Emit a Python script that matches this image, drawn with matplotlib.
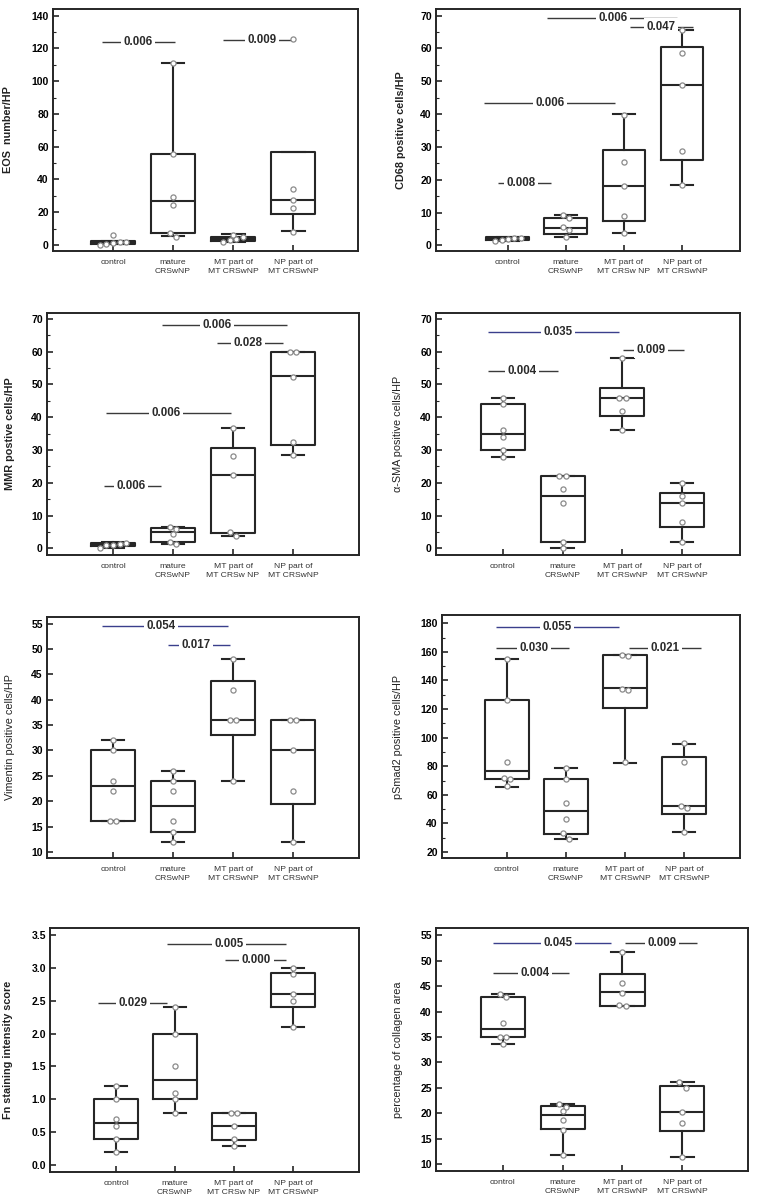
"""8-panel box plots (control / mature CRSwNP / MT part / NP part) -> out.png"""
import matplotlib
matplotlib.use("Agg")
import matplotlib.pyplot as plt
import numpy as np
from matplotlib.ticker import MultipleLocator

plt.rcParams["font.family"] = ["Liberation Sans", "DejaVu Sans"]

GROUPS = ["control", "mature\nCRSwNP", "MT part of\nMT CRSwNP", "NP part of\nMT CRSwNP"]
GROUPS_SP = ["control", "mature\nCRSwNP", "MT part of\nMT CRSw NP", "NP part of\nMT CRSwNP"]

# box stats per group: (whisker low, q1, median, q3, whisker high)
EOS_BOX = [(0.6, 0.8, 1.4, 2.2, 2.4), (5.5, 7.1, 26.9, 55.4, 111.0),
           (1.5, 2.5, 3.5, 5.0, 6.5), (8.5, 18.7, 27.3, 57.0, 57.0)]
EOS_PTS = [[0.2, 0.8, 1.2, 1.6, 2.0, 6.0], [111.0, 55.4, 29.5, 24.6, 7.5, 5.1],
           [1.5, 3.0, 3.5, 5.0, 6.0], [125.8, 34.0, 27.3, 22.4, 8.1]]
# significance: (x from, x to, text x, y, label, colour)
EOS_SIG = [(0.82, 2.03, 1.42, 123.7, "0.006", "k"), (2.83, 4.03, 3.48, 125.2, "0.009", "k")]

CD68_BOX = [(1.3, 1.5, 2.0, 2.6, 2.6), (2.5, 3.6, 5.3, 8.3, 9.3),
            (3.9, 7.5, 18.1, 29.0, 39.9), (18.3, 26.0, 48.9, 60.4, 65.6)]
CD68_PTS = [[1.3, 1.8, 2.0, 2.2, 2.3], [9.3, 8.2, 5.5, 4.7, 2.7],
            [39.8, 25.4, 18.1, 8.9, 3.9], [65.6, 58.6, 48.9, 28.8, 18.3]]
CD68_SIG = [(1.67, 3.91, 2.81, 69.4, "0.006", "k"), (3.1, 4.19, 3.64, 66.6, "0.047", "k"),
            (0.59, 2.85, 1.72, 43.3, "0.006", "k"), (0.83, 1.74, 1.22, 19.0, "0.008", "k")]

MMR_BOX = [(0.0, 0.8, 1.2, 1.6, 2.0), (1.4, 1.9, 4.9, 6.3, 6.6),
           (3.7, 4.6, 22.4, 30.5, 36.6), (28.6, 31.5, 52.5, 60.0, 60.0)]
MMR_PTS = [[0.0, 1.0, 1.2, 1.5, 1.8], [6.6, 6.0, 4.5, 2.0, 1.4],
           [36.6, 28.2, 22.4, 5.0, 3.7], [60.0, 59.8, 52.4, 32.5, 28.6]]
MMR_SIG = [(1.82, 3.9, 2.73, 68.0, "0.006", "k"), (2.73, 3.83, 3.25, 62.5, "0.028", "k"),
           (0.88, 2.97, 1.88, 41.3, "0.006", "k"), (0.85, 1.8, 1.3, 18.9, "0.006", "k")]

SMA_BOX = [(28.0, 30.0, 35.0, 44.0, 46.0), (0.0, 1.9, 16.0, 22.0, 22.0),
           (36.0, 40.5, 46.0, 49.0, 58.0), (1.9, 6.4, 14.0, 17.0, 20.0)]
SMA_PTS = [[46, 44, 36, 34, 30, 28], [22, 22, 18, 14, 2, 0],
           [58, 46, 46, 42, 36], [20, 16, 14, 8, 2]]
SMA_SIG = [(0.75, 2.94, 1.92, 66.1, "0.035", "b"), (3.01, 4.03, 3.48, 60.6, "0.009", "k"),
           (0.75, 1.92, 1.32, 54.0, "0.004", "k")]

VIM_BOX = [(16.0, 16.0, 23.0, 30.0, 32.0), (12.0, 14.0, 19.0, 24.0, 26.0),
           (24.0, 33.0, 36.0, 43.6, 48.0), (12.0, 19.5, 30.0, 36.0, 36.0)]
VIM_PTS = [[32, 30, 24, 22, 16, 16], [26, 24, 22, 16, 14, 12],
           [48, 42, 36, 36, 24], [36, 36, 30, 22, 12]]
VIM_SIG = [(0.82, 2.92, 1.8, 54.5, "0.054", "b"), (1.92, 2.95, 2.38, 50.7, "0.017", "b")]

SMAD_BOX = [(65.6, 71.0, 77.0, 126.2, 155.0), (29.0, 32.6, 48.4, 71.0, 79.0),
            (82.6, 120.4, 134.4, 157.6, 157.6), (34.0, 46.5, 51.9, 86.4, 95.9)]
SMAD_PTS = [[155, 126, 83, 72, 71, 66], [79, 71, 54, 43, 33, 29],
            [158, 157, 134, 133, 83], [96, 83, 52, 51, 34]]
SMAD_SIG = [(0.81, 2.9, 1.85, 177.7, "0.055", "b"), (0.81, 2.05, 1.46, 162.5, "0.030", "k"),
            (3.07, 4.29, 3.68, 162.5, "0.021", "k")]

FN_BOX = [(0.2, 0.4, 0.65, 1.0, 1.2), (0.8, 1.0, 1.3, 2.0, 2.4),
          (0.3, 0.38, 0.6, 0.8, 0.8), (2.1, 2.4, 2.6, 2.92, 3.0)]
FN_PTS = [[1.2, 1.0, 0.7, 0.6, 0.4, 0.2], [2.4, 2.0, 1.5, 1.1, 1.0, 0.8],
          [0.8, 0.8, 0.6, 0.4, 0.3], [3.0, 2.9, 2.6, 2.5, 2.1]]
FN_SIG = [(1.86, 3.88, 2.92, 3.35, "0.005", "k"), (2.85, 3.88, 3.38, 3.12, "0.000", "k"),
          (0.69, 1.86, 1.29, 2.47, "0.029", "k")]

COL_BOX = [(33.6, 35.1, 36.5, 42.9, 43.4), (11.8, 16.9, 19.7, 21.4, 21.9),
           (41.0, 41.1, 43.8, 47.3, 51.7), (11.4, 16.5, 20.2, 25.4, 26.1)]
COL_PTS = [[43.4, 42.8, 37.7, 35.1, 35.0, 33.6], [21.8, 21.2, 20.4, 18.7, 16.8, 11.8],
           [51.7, 45.7, 43.7, 41.2, 41.0], [26.1, 25.0, 20.2, 18.2, 11.4]]
COL_SIG = [(0.83, 2.81, 1.92, 53.5, "0.045", "b"), (3.04, 4.25, 3.66, 53.5, "0.009", "k"),
           (0.83, 2.1, 1.53, 47.5, "0.004", "k")]

# panel table: label, boxes, points, sig, xticklabels, xlim, ylim, major, minor, bold label,
# axes rect in pixels (left, top, right, bottom), y-label offset px
PANELS = [
    ("EOS  number/HP", EOS_BOX, EOS_PTS, EOS_SIG, GROUPS, (0.0, 5.08), (-3.7, 144.1), 20, 10, True, (53, 9, 358, 251), 40),
    ("CD68 positive cells/HP", CD68_BOX, CD68_PTS, CD68_SIG, GROUPS_SP, (-0.24, 5.0), (-1.7, 72.0), 10, 5, True, (436, 9, 740, 251), 30),
    ("MMR postive cells/HP", MMR_BOX, MMR_PTS, MMR_SIG, GROUPS_SP, (-0.1, 5.1), (-2.0, 71.8), 10, 5, True, (47, 313, 359, 555), 32),
    ("α-SMA positive cells/HP", SMA_BOX, SMA_PTS, SMA_SIG, GROUPS, (-0.12, 4.97), (-2.0, 71.8), 10, 5, False, (436, 313, 740, 555), 33),
    ("Vimentin positive cells/HP", VIM_BOX, VIM_PTS, VIM_SIG, GROUPS, (-0.1, 5.1), (8.8, 56.3), 5, None, False, (47, 617, 359, 858), 32),
    ("pSmad2 positive cells/HP", SMAD_BOX, SMAD_PTS, SMAD_SIG, GROUPS, (-0.1, 4.95), (15.8, 185.8), 20, 10, False, (442, 615, 740, 858), 39),
    ("Fn staining intensity score", FN_BOX, FN_PTS, FN_SIG, GROUPS_SP, (-0.12, 5.12), (-0.1, 3.6), 0.5, None, True, (50, 928, 359, 1172), 37),
    ("percentage of collagen area", COL_BOX, COL_PTS, COL_SIG, GROUPS, (-0.12, 5.1), (8.7, 56.4), 5, None, False, (436, 928, 748, 1171), 33),
]

W, H = 757, 1200
INK = "#262626"
SIG_COL = {"k": "#3a3a3a", "b": "#3a3f8c"}


def offsets(vals, span):
    # spread near-equal values side by side
    vals = np.asarray(vals, float)
    off = np.zeros(len(vals))
    used = np.zeros(len(vals), bool)
    for i in range(len(vals)):
        if used[i]:
            continue
        grp = [j for j in range(len(vals)) if not used[j] and abs(vals[j] - vals[i]) < 0.025 * span]
        for j in grp:
            used[j] = True
        if len(grp) > 1:
            xs = np.linspace(-0.055 * (len(grp) - 1), 0.055 * (len(grp) - 1), len(grp))
            off[grp] = xs
    return off


fig = plt.figure(figsize=(W / 100, H / 100), dpi=100)

for (ylabel, boxes, pts, sigs, xt, xlim, ylim, major, minor, bold, rect, loff) in PANELS:
    l, t, r, b = rect
    ax = fig.add_axes([l / W, 1 - b / H, (r - l) / W, (b - t) / H])
    stats = [dict(whislo=s[0], q1=s[1], med=s[2], q3=s[3], whishi=s[4], fliers=[]) for s in boxes]
    lw = 1.5
    ax.bxp(stats, positions=[1, 2, 3, 4], widths=0.74, capwidths=0.38, showfliers=False,
           boxprops=dict(color=INK, linewidth=lw), medianprops=dict(color=INK, linewidth=lw),
           whiskerprops=dict(color=INK, linewidth=lw), capprops=dict(color=INK, linewidth=lw))
    span = ylim[1] - ylim[0]
    for i, p in enumerate(pts):
        x = i + 1 + offsets(p, span)
        ax.plot(x, p, "o", ms=3.7, mfc="white", mec="#8a8a8a", mew=0.9, zorder=6, clip_on=False)
    for x0, x1, xt_, y, lab, c in sigs:
        ax.plot([x0, x1], [y, y], color=SIG_COL[c], lw=1.0, zorder=3, solid_capstyle="butt")
        ax.text(xt_, y, lab, ha="center", va="center", fontsize=8.3, fontweight="bold", color="#2a2a2a",
                zorder=4, bbox=dict(boxstyle="square,pad=0.22", fc="white", ec="none"))

    ax.set_xlim(*xlim)
    ax.set_ylim(*ylim)
    ax.set_xticks([1, 2, 3, 4])
    ax.set_xticklabels(xt, fontsize=6.1, color="#333333", linespacing=1.3)
    ax.yaxis.set_major_locator(MultipleLocator(major))
    if minor:
        ax.yaxis.set_minor_locator(MultipleLocator(minor))
    for lab in ax.get_yticklabels():
        lab.set_fontweight("bold")
        lab.set_fontsize(7.5)
    ax.tick_params(axis="both", which="major", direction="in", length=4, width=1.2, color=INK, pad=3)
    ax.tick_params(axis="x", pad=6)
    ax.tick_params(axis="y", which="minor", direction="in", length=2.5, width=0.8, color=INK)
    ax.tick_params(axis="x", which="minor", bottom=False)
    for sp in ax.spines.values():
        sp.set_color(INK)
        sp.set_linewidth(1.4)
        sp.set_zorder(10)
    ax.set_ylabel(ylabel, fontsize=7.8, fontweight="bold" if bold else "normal", color="#222222")
    ax.yaxis.set_label_coords(-loff / (r - l), 0.5)

fig.savefig("out.png", dpi=100)
